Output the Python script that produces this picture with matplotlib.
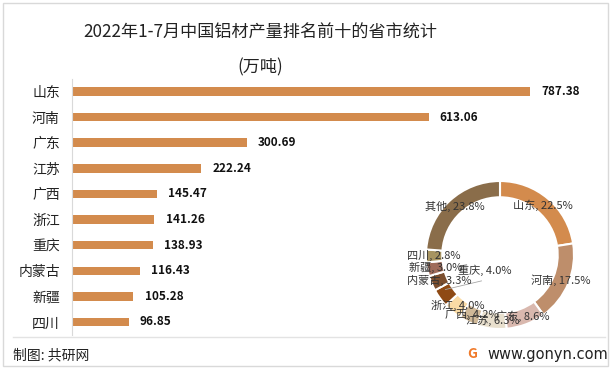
import matplotlib
matplotlib.use("Agg")
from matplotlib import pyplot as plt
from matplotlib.patches import Rectangle
from matplotlib.lines import Line2D

plt.rcParams["font.family"] = ["Noto Sans CJK SC", "DejaVu Sans"]

# Data
provinces = ["山东", "河南", "广东", "江苏", "广西", "浙江", "重庆", "内蒙古", "新疆", "四川"]
output = [787.38, 613.06, 300.69, 222.24, 145.47, 141.26, 138.93, 116.43, 105.28, 96.85]

pie_labels = ["山东", "河南", "广东", "江苏", "广西", "浙江", "重庆", "内蒙古", "新疆", "四川", "其他"]
pie_shares = [22.5, 17.5, 8.6, 6.3, 4.2, 4.0, 4.0, 3.3, 3.0, 2.8, 23.8]
pie_colors = ["#D38B4D", "#BE8E6B", "#D9B8AE", "#E8DFCD", "#D0B998", "#FADBA5",
              "#8F4A14", "#7B4E2E", "#9F6B5A", "#A79461", "#8A6D4A"]

W, H = 613, 371
BAR_COLOR = "#D38B4D"

fig = plt.figure(figsize=(W / 100, H / 100), dpi=100)


def fx(px):
    return px / W


def fy(py):
    return 1 - py / H


# Frame, separator
fig.patches.append(Rectangle((fx(3), fy(366)), fx(605), 363 / H, transform=fig.transFigure,
                             fill=False, edgecolor="#D9D9D9", linewidth=1))
fig.lines.append(Line2D([fx(13), fx(605)], [fy(337), fy(337)], transform=fig.transFigure,
                        color="#E3E3E3", linewidth=1))

# Titles
fig.text(fx(260), fy(33), "2022年1-7月中国铝材产量排名前十的省市统计", ha="center", va="center",
         fontsize=12.3, color="#222222")
fig.text(fx(260), fy(67), "(万吨)", ha="center", va="center", fontsize=12.3, color="#222222")

# Bar chart
ax = fig.add_axes((fx(72.3), fy(334.8), fx(590 - 72.3), (334.8 - 78.7) / H))
ypos = list(range(len(provinces)))
ax.barh(ypos, output, height=0.33, color=BAR_COLOR)
ax.set_ylim(len(provinces) - 0.5, -0.5)
ax.set_xlim(0, (590 - 72.3) / 0.5813)
ax.set_yticks(ypos)
ax.set_yticklabels(provinces, fontsize=10, color="#222222")
ax.tick_params(axis="y", length=0, pad=9)
ax.set_xticks([])
for side in ("top", "right", "bottom"):
    ax.spines[side].set_visible(False)
ax.spines["left"].set_color("#D9D9D9")
ax.patch.set_alpha(0)
for y, v in zip(ypos, output):
    ax.annotate(f"{v:.2f}", (v, y), xytext=(8, 0), textcoords="offset points",
                ha="left", va="center", fontsize=8.5, fontweight="bold", color="#111111")

# Donut
pax = fig.add_axes((fx(500 - 74), fy(255 + 74), fx(148), 148 / H))
wedges, texts = pax.pie(pie_shares, colors=pie_colors, startangle=90, counterclock=False,
                        radius=1, labels=[f"{n}, {s:.1f}%" for n, s in zip(pie_labels, pie_shares)],
                        labeldistance=0.89,
                        wedgeprops={"width": 0.22, "edgecolor": "white", "linewidth": 1.5},
                        textprops={"fontsize": 8, "color": "#333333"})
for t in texts:
    t.set_ha("center")
    t.set_va("center")
# Chongqing label moved off its wedge with a leader line
cq = pie_labels.index("重庆")
lx, ly = texts[cq].get_position()
texts[cq].set_position((-0.2, -0.21))
pax.plot([lx * 1.02, -0.25], [ly * 0.9, -0.35], color="#A6A6A6", linewidth=0.6)
pax.set_xlim(-1, 1)
pax.set_ylim(-1, 1)
pax.set_aspect("equal")
pax.axis("off")

# Footer
fig.text(fx(13), fy(355), "制图: 共研网", ha="left", va="center", fontsize=10, color="#222222")
fig.text(fx(472), fy(354), "G", ha="center", va="center", fontsize=10, fontweight="bold",
         color="#F07A2A")
fig.text(fx(487), fy(354), "www.gonyn.com", ha="left", va="center", fontsize=10.5,
         color="#222222", family=["DejaVu Sans"])

fig.savefig("out.png", dpi=100)
